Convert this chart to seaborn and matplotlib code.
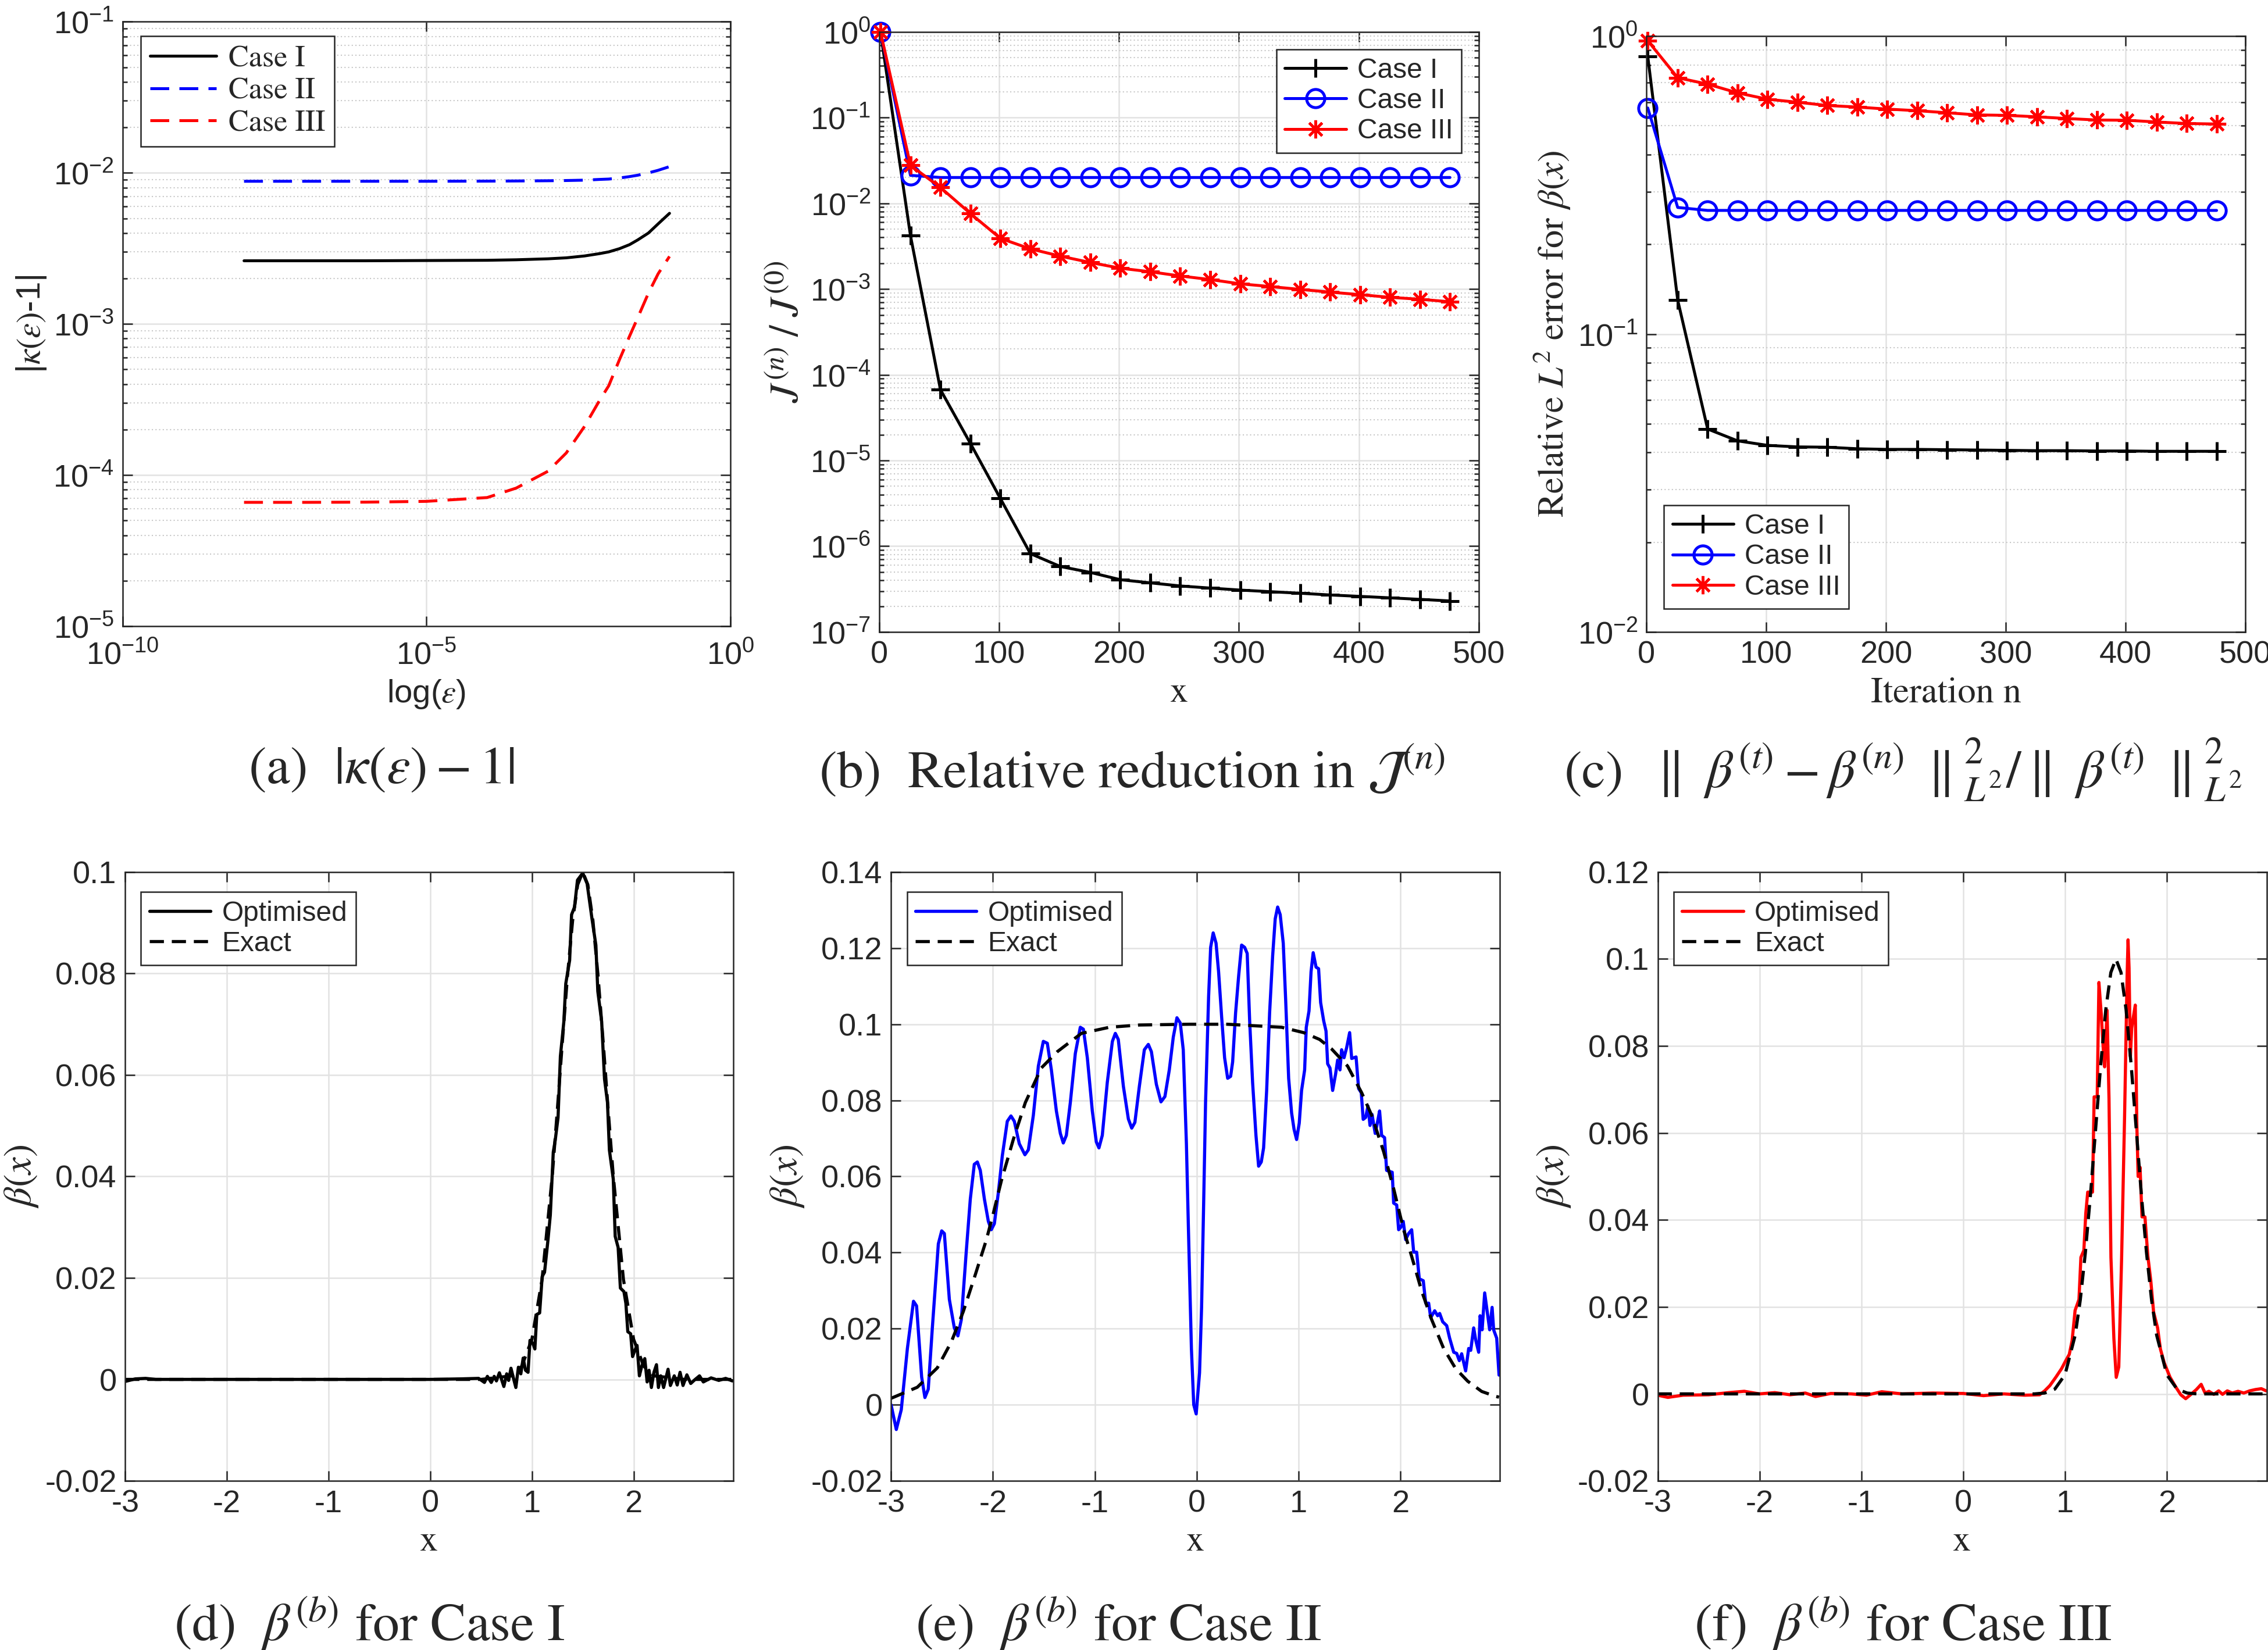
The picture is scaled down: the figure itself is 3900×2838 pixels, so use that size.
import matplotlib
matplotlib.use('Agg')
import matplotlib.pyplot as plt
import matplotlib.ticker as mticker
import seaborn as sns

# ---------------- (a) |kappa(eps) - 1| ----------------
eps_vals = [1e-8, 1e-7, 1e-6, 1e-5, 1e-4, 3e-4, 1e-3, 2e-3, 4e-3, 7e-3,
            1e-2, 1.5e-2, 2.2e-2, 3e-2, 4.5e-2, 6.5e-2, 1e-1]
kappa_case1 = [2.62e-3, 2.62e-3, 2.62e-3, 2.63e-3, 2.64e-3, 2.66e-3, 2.70e-3, 2.74e-3, 2.82e-3, 2.92e-3,
               3.0e-3, 3.15e-3, 3.35e-3, 3.6e-3, 4.0e-3, 4.6e-3, 5.4e-3]
kappa_case2 = [8.8e-3, 8.8e-3, 8.8e-3, 8.8e-3, 8.82e-3, 8.84e-3, 8.87e-3, 8.9e-3, 8.95e-3, 9.05e-3,
               9.1e-3, 9.25e-3, 9.45e-3, 9.65e-3, 1.0e-2, 1.04e-2, 1.1e-2]
kappa_case3 = [6.6e-5, 6.6e-5, 6.62e-5, 6.7e-5, 7.1e-5, 8.2e-5, 1.06e-4, 1.4e-4, 2.1e-4, 3.1e-4,
               3.9e-4, 5.8e-4, 8.3e-4, 1.1e-3, 1.6e-3, 2.15e-3, 2.8e-3]

# ---------------- (b), (c) iterations ----------------
iters = [1, 26, 51, 76, 101, 126, 151, 176, 201, 226,
         251, 276, 301, 326, 351, 376, 401, 426, 451, 476]
J_case1 = [1.0, 4.2e-3, 6.7e-5, 1.58e-5, 3.6e-6, 8.2e-7, 5.8e-7, 4.95e-7, 4.07e-7, 3.74e-7,
           3.44e-7, 3.25e-7, 3.08e-7, 2.95e-7, 2.83e-7, 2.7e-7, 2.6e-7, 2.5e-7, 2.4e-7, 2.3e-7]
J_case2 = [1.0, 2.12e-2, 2.0e-2, 2.0e-2, 2.0e-2, 2.0e-2, 2.0e-2, 2.0e-2, 2.0e-2, 2.0e-2,
           2.0e-2, 2.0e-2, 2.0e-2, 2.0e-2, 2.0e-2, 2.0e-2, 2.0e-2, 2.0e-2, 2.0e-2, 2.0e-2]
J_case3 = [1.0, 2.77e-2, 1.53e-2, 7.6e-3, 3.9e-3, 2.94e-3, 2.42e-3, 2.04e-3, 1.75e-3, 1.59e-3,
           1.42e-3, 1.29e-3, 1.15e-3, 1.07e-3, 9.9e-4, 9.2e-4, 8.6e-4, 8.0e-4, 7.6e-4, 7.1e-4]

err_case1 = [0.855, 0.130, 0.048, 0.0438, 0.0423, 0.0418, 0.0417, 0.0412, 0.041, 0.041,
             0.0409, 0.0408, 0.0407, 0.0406, 0.0406, 0.0405, 0.0405, 0.0404, 0.0404, 0.0404]
err_case2 = [0.574, 0.266, 0.26, 0.26, 0.26, 0.26, 0.26, 0.26, 0.26, 0.26,
             0.26, 0.26, 0.26, 0.26, 0.26, 0.26, 0.26, 0.26, 0.26, 0.26]
err_case3 = [0.965, 0.725, 0.69, 0.645, 0.614, 0.60, 0.585, 0.578, 0.569, 0.562,
             0.553, 0.544, 0.542, 0.536, 0.529, 0.523, 0.522, 0.515, 0.509, 0.507]

# ---------------- (d) Case I ----------------
d_opt_x = [-3.0, -2.9, -2.8, -2.7, -2.5, -2.0, -1.5, -1.0, -0.5, 0.0,
           0.3, 0.476, 0.533, 0.562, 0.60, 0.629, 0.651, 0.680, 0.724, 0.752,
           0.771, 0.794, 0.819, 0.842, 0.867, 0.891, 0.914, 0.937, 0.962, 0.981,
           1.01, 1.029, 1.048, 1.076, 1.101, 1.124, 1.158, 1.181, 1.21, 1.229,
           1.257, 1.28, 1.314, 1.333, 1.371, 1.39, 1.419, 1.448, 1.50, 1.543,
           1.59, 1.629, 1.648, 1.686, 1.714, 1.743, 1.762, 1.80, 1.819, 1.848,
           1.87, 1.905, 1.924, 1.943, 1.971, 1.99, 2.01, 2.034, 2.057, 2.08,
           2.11, 2.133, 2.152, 2.175, 2.20, 2.225, 2.244, 2.267, 2.295, 2.339,
           2.362, 2.40, 2.429, 2.457, 2.486, 2.524, 2.562, 2.60, 2.648, 2.686,
           2.762, 2.838, 2.905, 2.971]
d_opt_y = [-0.0004, 0.0001, 0.0002, 0.0, 0.0, 0.0, 0.0, 0.0, 0.0, 0.0,
           0.0001, 0.0002, -0.0006, 0.0006, -0.0006, 0.0006, -0.0003, 0.0013, -0.0014, 0.0011,
           -0.0002, 0.0022, 0.0002, -0.0016, 0.0024, 0.0011, 0.0042, 0.0018, 0.0014, 0.0077,
           0.0071, 0.006, 0.0128, 0.0131, 0.0203, 0.0211, 0.0275, 0.0324, 0.0448, 0.0471,
           0.0516, 0.0637, 0.0705, 0.078, 0.0826, 0.0916, 0.0931, 0.0984, 0.0998, 0.0977,
           0.0909, 0.0856, 0.0765, 0.0705, 0.0592, 0.0546, 0.0452, 0.0395, 0.0282, 0.026,
           0.018, 0.0173, 0.015, 0.0094, 0.009, 0.0045, 0.0056, 0.0067, 0.0007, 0.0026,
           0.0041, -0.0005, 0.0018, -0.0016, 0.0014, 0.0029, -0.0016, 0.0007, -0.0016, 0.002,
           -0.0012, 0.0007, -0.0011, 0.0014, -0.0012, 0.0009, -0.0008, -0.0001, 0.0007, -0.0005,
           0.0003, -0.0002, 0.0002, -0.0003]
d_exact_x = [-3.0, 0.5, 0.8, 0.9, 1.0, 1.1, 1.2, 1.25, 1.3, 1.35,
             1.4, 1.45, 1.5, 1.55, 1.6, 1.65, 1.7, 1.75, 1.8, 1.9,
             2.0, 2.1, 2.2, 2.5, 2.98]
d_exact_y = [0.0, 0.0, 0.0007, 0.0026, 0.0079, 0.0197, 0.0401, 0.0531, 0.0667, 0.0796,
             0.0904, 0.0975, 0.1, 0.0975, 0.0904, 0.0796, 0.0667, 0.0531, 0.0401, 0.0197,
             0.0079, 0.0026, 0.0007, 0.0, 0.0]

# ---------------- (e) Case II ----------------
e_opt_x = [-3.0, -2.949, -2.90, -2.84, -2.78, -2.75, -2.70, -2.668, -2.635, -2.595,
           -2.536, -2.503, -2.477, -2.428, -2.379, -2.344, -2.31, -2.261, -2.222, -2.183,
           -2.153, -2.124, -2.084, -2.045, -2.016, -1.986, -1.947, -1.908, -1.859, -1.823,
           -1.790, -1.741, -1.686, -1.652, -1.603, -1.554, -1.505, -1.466, -1.426, -1.377,
           -1.338, -1.309, -1.279, -1.240, -1.191, -1.142, -1.112, -1.073, -1.024, -0.985,
           -0.959, -0.926, -0.877, -0.827, -0.798, -0.769, -0.719, -0.670, -0.637, -0.606,
           -0.562, -0.513, -0.474, -0.444, -0.395, -0.350, -0.311, -0.268, -0.229, -0.193,
           -0.160, -0.131, -0.10, -0.081, -0.051, -0.028, -0.004,
           0.029, 0.049, 0.069, 0.088, 0.118, 0.138, 0.163, 0.191, 0.216, 0.246,
           0.275, 0.305, 0.334, 0.354, 0.383, 0.413, 0.442, 0.472, 0.497, 0.521,
           0.550, 0.583, 0.609, 0.635, 0.658, 0.688, 0.717, 0.747, 0.772, 0.796,
           0.821, 0.851, 0.875, 0.904, 0.933, 0.957, 0.982, 1.008, 1.031, 1.061,
           1.077, 1.104, 1.124, 1.145, 1.173, 1.198, 1.218, 1.248, 1.271, 1.287,
           1.310, 1.336, 1.365, 1.385, 1.408, 1.424, 1.448, 1.474, 1.503, 1.523,
           1.566, 1.591, 1.617, 1.636, 1.660, 1.683, 1.703, 1.723, 1.754, 1.778,
           1.797, 1.817, 1.846, 1.866, 1.896, 1.921, 1.935, 1.965, 1.984, 2.004,
           2.029, 2.053, 2.082, 2.112, 2.132, 2.161, 2.187, 2.226, 2.250, 2.279,
           2.299, 2.338, 2.367, 2.387, 2.417, 2.456, 2.485, 2.525, 2.554, 2.580,
           2.603, 2.642, 2.672, 2.692, 2.721, 2.741, 2.770, 2.784, 2.804, 2.829,
           2.859, 2.878, 2.902, 2.917, 2.947, 2.970]
e_opt_y = [0.0, -0.0065, -0.0013, 0.0148, 0.0272, 0.026, 0.0073, 0.0019, 0.0041, 0.0202,
           0.0423, 0.0457, 0.045, 0.0277, 0.0202, 0.0181, 0.0224, 0.0406, 0.0541, 0.0632,
           0.0638, 0.0616, 0.0541, 0.0482, 0.046, 0.0476, 0.0557, 0.0654, 0.0745, 0.0759,
           0.0745, 0.0686, 0.0657, 0.067, 0.0761, 0.089, 0.0955, 0.095, 0.088, 0.0772,
           0.0713, 0.0688, 0.0708, 0.0794, 0.0923, 0.0992, 0.0987, 0.0912, 0.0772, 0.0691,
           0.0675, 0.0708, 0.0847, 0.0955, 0.0976, 0.096, 0.0837, 0.0751, 0.0727, 0.0742,
           0.0837, 0.0933, 0.0947, 0.0928, 0.0842, 0.0796, 0.081, 0.088, 0.0966, 0.1017,
           0.1003, 0.0933, 0.0686, 0.0471, 0.0148, 0.0, -0.0024,
           0.0084, 0.0256, 0.0525, 0.0794, 0.1073, 0.1202, 0.124, 0.1213, 0.1138, 0.1019,
           0.0912, 0.0858, 0.0863, 0.0901, 0.1030, 0.1127, 0.1208, 0.1202, 0.1186, 0.1009,
           0.0847, 0.0708, 0.0627, 0.0638, 0.0675, 0.0826, 0.1030, 0.118, 0.1277, 0.1308,
           0.1288, 0.1213, 0.1062, 0.0858, 0.0767, 0.0724, 0.0697, 0.074, 0.0826, 0.0880,
           0.0992, 0.1035, 0.1138, 0.1188, 0.115, 0.1146, 0.1057, 0.1009, 0.0982, 0.0896,
           0.0885, 0.0826, 0.0869, 0.0906, 0.0880, 0.0933, 0.0912, 0.0939, 0.0978, 0.0910,
           0.0914, 0.0831, 0.0820, 0.0750, 0.0755, 0.0785, 0.0734, 0.0763, 0.0713, 0.0745,
           0.0772, 0.0708, 0.0702, 0.0616, 0.0613, 0.0611, 0.0530, 0.0525, 0.0460, 0.0466,
           0.0482, 0.0434, 0.0450, 0.0460, 0.0401, 0.0401, 0.0331, 0.0326, 0.0267, 0.0267,
           0.0229, 0.0247, 0.0234, 0.0240, 0.0218, 0.0208, 0.0175, 0.0138, 0.0135, 0.0116,
           0.0134, 0.0089, 0.0148, 0.0143, 0.0202, 0.0170, 0.0138, 0.0234, 0.0197, 0.0294,
           0.0234, 0.0197, 0.0256, 0.0197, 0.0175, 0.0078]
e_exact_x = [-3.0, -2.743, -2.546, -2.409, -2.291, -2.173, -2.065, -1.996, -1.917, -1.80,
             -1.682, -1.525, -1.367, -1.289, -1.131, -0.857, -0.562, -0.071, 0.3, 0.835,
             1.051, 1.208, 1.326, 1.483, 1.621, 1.719, 1.837, 1.935, 2.033, 2.112,
             2.21, 2.308, 2.426, 2.544, 2.662, 2.80, 2.937, 2.97]
e_exact_y = [0.0017, 0.0046, 0.0097, 0.0165, 0.0245, 0.0342, 0.0433, 0.0503, 0.0589, 0.0697,
             0.0794, 0.0885, 0.0928, 0.0944, 0.0976, 0.0992, 0.0998, 0.1, 0.1, 0.0992,
             0.0978, 0.096, 0.0935, 0.089, 0.082, 0.0761, 0.0665, 0.0568, 0.046, 0.039,
             0.0299, 0.0224, 0.0148, 0.0095, 0.0062, 0.0035, 0.0022, 0.002]

# ---------------- (f) Case III ----------------
f_opt_x = [-3.0, -2.9, -2.75, -2.5, -2.3, -2.15, -2.0, -1.85, -1.7, -1.55,
           -1.45, -1.3, -1.1, -0.95, -0.8, -0.6, -0.3, 0.0, 0.2, 0.4,
           0.6, 0.75, 0.8, 0.851, 0.909, 0.966, 1.004, 1.042, 1.07, 1.099,
           1.137, 1.156, 1.185, 1.204, 1.223, 1.27, 1.286, 1.316, 1.333, 1.356,
           1.375, 1.389, 1.413, 1.432, 1.451, 1.48, 1.503, 1.528, 1.556, 1.585,
           1.61, 1.619, 1.629, 1.642, 1.655, 1.67, 1.69, 1.705, 1.718, 1.737,
           1.756, 1.785, 1.813, 1.842, 1.87, 1.909, 1.937, 1.975, 2.032, 2.09,
           2.137, 2.185, 2.232, 2.29, 2.337, 2.375, 2.413, 2.461, 2.509, 2.547,
           2.594, 2.642, 2.699, 2.756, 2.813, 2.87, 2.928, 2.975]
f_opt_y = [-0.0003, -0.0008, -0.0003, -0.0002, 0.0003, 0.0006, 0.0, 0.0003, -0.0002, 0.0002,
           -0.0006, 0.0001, 0.0, -0.0003, 0.0005, 0.0, 0.0002, 0.0001, -0.0004, 0.0,
           -0.0003, -0.0002, 0.0007, 0.0019, 0.0038, 0.0058, 0.0075, 0.0091, 0.0123, 0.0192,
           0.0217, 0.0314, 0.033, 0.0415, 0.0464, 0.0464, 0.0683, 0.0683, 0.0946, 0.0873,
           0.0796, 0.0752, 0.0882, 0.0679, 0.0314, 0.0127, 0.0038, 0.0062, 0.0314, 0.0638,
           0.0963, 0.1044, 0.0979, 0.0776, 0.0841, 0.0865, 0.0894, 0.0622, 0.05, 0.0521,
           0.0407, 0.0407, 0.0318, 0.0261, 0.0188, 0.0152, 0.0103, 0.0071, 0.0038, 0.0015,
           -0.0002, -0.0011, -0.0002, 0.001, 0.0022, 0.0002, 0.0006, -0.0001, 0.0007, -0.0001,
           0.0007, 0.0002, 0.0006, 0.0002, 0.0007, 0.001, 0.0012, 0.0007]
f_exact_x = [-3.0, 0.6, 0.7, 0.8, 0.9, 1.0, 1.1, 1.15, 1.2, 1.25,
             1.3, 1.35, 1.4, 1.45, 1.5, 1.55, 1.6, 1.65, 1.7, 1.75,
             1.8, 1.85, 1.9, 2.0, 2.1, 2.2, 2.3, 2.98]
f_exact_y = [0.0, 0.0, 0.0, 0.0002, 0.0011, 0.0044, 0.0135, 0.0216, 0.0325, 0.0458,
             0.0607, 0.0755, 0.0883, 0.0969, 0.1, 0.0969, 0.0883, 0.0755, 0.0607, 0.0458,
             0.0325, 0.0216, 0.0135, 0.0044, 0.0011, 0.0002, 0.0, 0.0]

# ---------------- styling ----------------
sns.set_theme(style='ticks')
plt.rcParams['font.family'] = ['Liberation Sans', 'DejaVu Sans']
plt.rcParams['mathtext.fontset'] = 'stix'
plt.rcParams['axes.unicode_minus'] = False

INK = '#262626'
SERIF = 'STIXGeneral'
TICK_FS = 13

fig = plt.figure(figsize=(13, 9.46), dpi=300)


def style_axes(ax):
    for s in ax.spines.values():
        s.set_color(INK)
        s.set_linewidth(0.6)
    ax.tick_params(which='both', direction='in', top=True, right=True,
                   colors=INK, labelcolor=INK, labelsize=TICK_FS, width=0.6)
    ax.tick_params(which='major', length=4)
    ax.tick_params(which='minor', length=2)
    ax.grid(True, which='major', color='#e2e2e2', lw=0.6, ls='-')
    ax.set_axisbelow(True)


def log_y(ax, lo, hi):
    ax.set_yscale('log')
    ax.set_ylim(lo, hi)
    ax.yaxis.set_major_locator(mticker.LogLocator(base=10, numticks=20))
    ax.yaxis.set_minor_locator(mticker.LogLocator(base=10, subs=range(2, 10), numticks=20))
    ax.yaxis.set_minor_formatter(mticker.NullFormatter())
    ax.grid(True, which='minor', axis='y', color='#c8c8c8', lw=0.5, ls=(0, (1, 2)))


def legend(ax, loc, anchor, serif=False, size=11.5):
    prop = {'family': SERIF, 'size': size + 1} if serif else {'size': size}
    leg = ax.legend(loc=loc, bbox_to_anchor=anchor, borderaxespad=0, prop=prop,
                    fancybox=False, framealpha=1, edgecolor=INK, handlelength=2.2,
                    handletextpad=0.4, borderpad=0.3, labelspacing=0.15)
    leg.get_frame().set_linewidth(0.6)


DASH_A = (0, (6.5, 3.5))
DASH_B = (0, (4.5, 2.5))

# (a)
ax = fig.add_axes([0.054, 0.6205, 0.268, 0.3663])
style_axes(ax)
sns.lineplot(x=eps_vals, y=kappa_case1, ax=ax, color='black', lw=1.2, label='Case I',
             estimator=None, sort=False)
sns.lineplot(x=eps_vals, y=kappa_case2, ax=ax, color='blue', lw=1.2, ls=DASH_A,
             label='Case II', estimator=None, sort=False)
sns.lineplot(x=eps_vals, y=kappa_case3, ax=ax, color='red', lw=1.2, ls=DASH_A,
             label='Case III', estimator=None, sort=False)
ax.set_xscale('log')
ax.set_xlim(1e-10, 1)
ax.set_xticks([1e-10, 1e-5, 1])
ax.xaxis.set_minor_locator(mticker.NullLocator())
ax.tick_params(axis='x', pad=6)
log_y(ax, 1e-5, 1e-1)
ax.set_xlabel(r'log($\epsilon$)', fontsize=13.5, color=INK, labelpad=3)
ax.set_ylabel(r'|$\kappa(\epsilon)$-1|', fontsize=14, color=INK, labelpad=2)
legend(ax, 'upper left', (0.03, 0.976), serif=True)

# (b)
ax = fig.add_axes([0.3877, 0.617, 0.2643, 0.3637])
style_axes(ax)
mk = dict(estimator=None, sort=False, lw=1.2, clip_on=False, markersize=7.5)
sns.lineplot(x=iters, y=J_case1, ax=ax, color='black', marker='+', mec='black', mew=1.2,
             label='Case I', **mk)
sns.lineplot(x=iters, y=J_case2, ax=ax, color='blue', marker='o', mec='blue', mfc='none',
             mew=1.2, label='Case II', **mk)
sns.lineplot(x=iters, y=J_case3, ax=ax, color='red', marker=(8, 2, 0), mec='red', mew=1.1,
             label='Case III', **mk)
ax.set_xlim(0, 500)
ax.set_xticks(range(0, 501, 100))
log_y(ax, 1e-7, 1e0)
ax.set_xlabel('x', family=SERIF, fontsize=15, color=INK, labelpad=3)
ax.set_ylabel(r'$J^{(n)}\;/\;J^{(0)}$', fontsize=17, color=INK, labelpad=1)
legend(ax, 'upper right', (0.971, 0.971))

# (c)
ax = fig.add_axes([0.726, 0.617, 0.264, 0.3611])
style_axes(ax)
sns.lineplot(x=iters, y=err_case1, ax=ax, color='black', marker='+', mec='black', mew=1.2,
             label='Case I', **mk)
sns.lineplot(x=iters, y=err_case2, ax=ax, color='blue', marker='o', mec='blue', mfc='none',
             mew=1.2, label='Case II', **mk)
sns.lineplot(x=iters, y=err_case3, ax=ax, color='red', marker=(8, 2, 0), mec='red', mew=1.1,
             label='Case III', **mk)
ax.set_xlim(0, 500)
ax.set_xticks(range(0, 501, 100))
log_y(ax, 1e-2, 1e0)
ax.set_xlabel('Iteration n', family=SERIF, fontsize=15, color=INK, labelpad=3)
ax.set_ylabel(r'Relative $L^2$ error for $\beta(x)$', family=SERIF, fontsize=15,
              color=INK, labelpad=2)
legend(ax, 'lower left', (0.029, 0.039))

# (d), (e), (f)
bottom = [
    ([0.0552, 0.1025, 0.2681, 0.369], d_opt_x, d_opt_y, d_exact_x, d_exact_y, 'black',
     (-0.02, 0.1), [-0.02, 0, 0.02, 0.04, 0.06, 0.08, 0.1]),
    ([0.3929, 0.1025, 0.2685, 0.369], e_opt_x, e_opt_y, e_exact_x, e_exact_y, 'blue',
     (-0.02, 0.14), [-0.02, 0, 0.02, 0.04, 0.06, 0.08, 0.1, 0.12, 0.14]),
    ([0.7309, 0.1025, 0.2685, 0.369], f_opt_x, f_opt_y, f_exact_x, f_exact_y, 'red',
     (-0.02, 0.12), [-0.02, 0, 0.02, 0.04, 0.06, 0.08, 0.1, 0.12]),
]
for rect, ox, oy, ex, ey, col, ylim, yt in bottom:
    ax = fig.add_axes(rect)
    style_axes(ax)
    sns.lineplot(x=ox, y=oy, ax=ax, color=col, lw=1.3, label='Optimised',
                 estimator=None, sort=False)
    sns.lineplot(x=ex, y=ey, ax=ax, color='black', lw=1.3, ls=DASH_B,
                 label='Exact', estimator=None, sort=False)
    ax.set_xlim(-3, 2.98)
    ax.set_xticks([-3, -2, -1, 0, 1, 2])
    ax.set_ylim(*ylim)
    ax.set_yticks(yt)
    ax.set_yticklabels(['0' if v == 0 else f'{v:g}' for v in yt])
    ax.set_xlabel('x', family=SERIF, fontsize=15, color=INK, labelpad=3)
    ax.set_ylabel(r'$\beta(x)$', fontsize=16, color=INK, labelpad=2)
    legend(ax, 'upper left', (0.026, 0.967))

# sub-captions
CAP = 22
fig.text(0.168, 0.533, r'(a)  $|\kappa(\varepsilon)-1|$', family=SERIF, fontsize=CAP,
         ha='center', va='center')
fig.text(0.499, 0.533, r'(b)  Relative reduction in $\mathcal{J}^{(n)}$', family=SERIF,
         fontsize=CAP, ha='center', va='center')
fig.text(0.839, 0.533,
         r'(c)  $\parallel\ \beta^{(t)}-\beta^{(n)}\ \parallel^2_{L^2}$/$\parallel\ \beta^{(t)}\ \parallel^2_{L^2}$',
         family=SERIF, fontsize=CAP, ha='center', va='center')
fig.text(0.163, 0.016, r'(d)  $\beta^{(b)}$ for Case I', family=SERIF, fontsize=CAP,
         ha='center', va='center')
fig.text(0.493, 0.016, r'(e)  $\beta^{(b)}$ for Case II', family=SERIF, fontsize=CAP,
         ha='center', va='center')
fig.text(0.839, 0.016, r'(f)  $\beta^{(b)}$ for Case III', family=SERIF, fontsize=CAP,
         ha='center', va='center')

fig.savefig('out.png', dpi=300)
